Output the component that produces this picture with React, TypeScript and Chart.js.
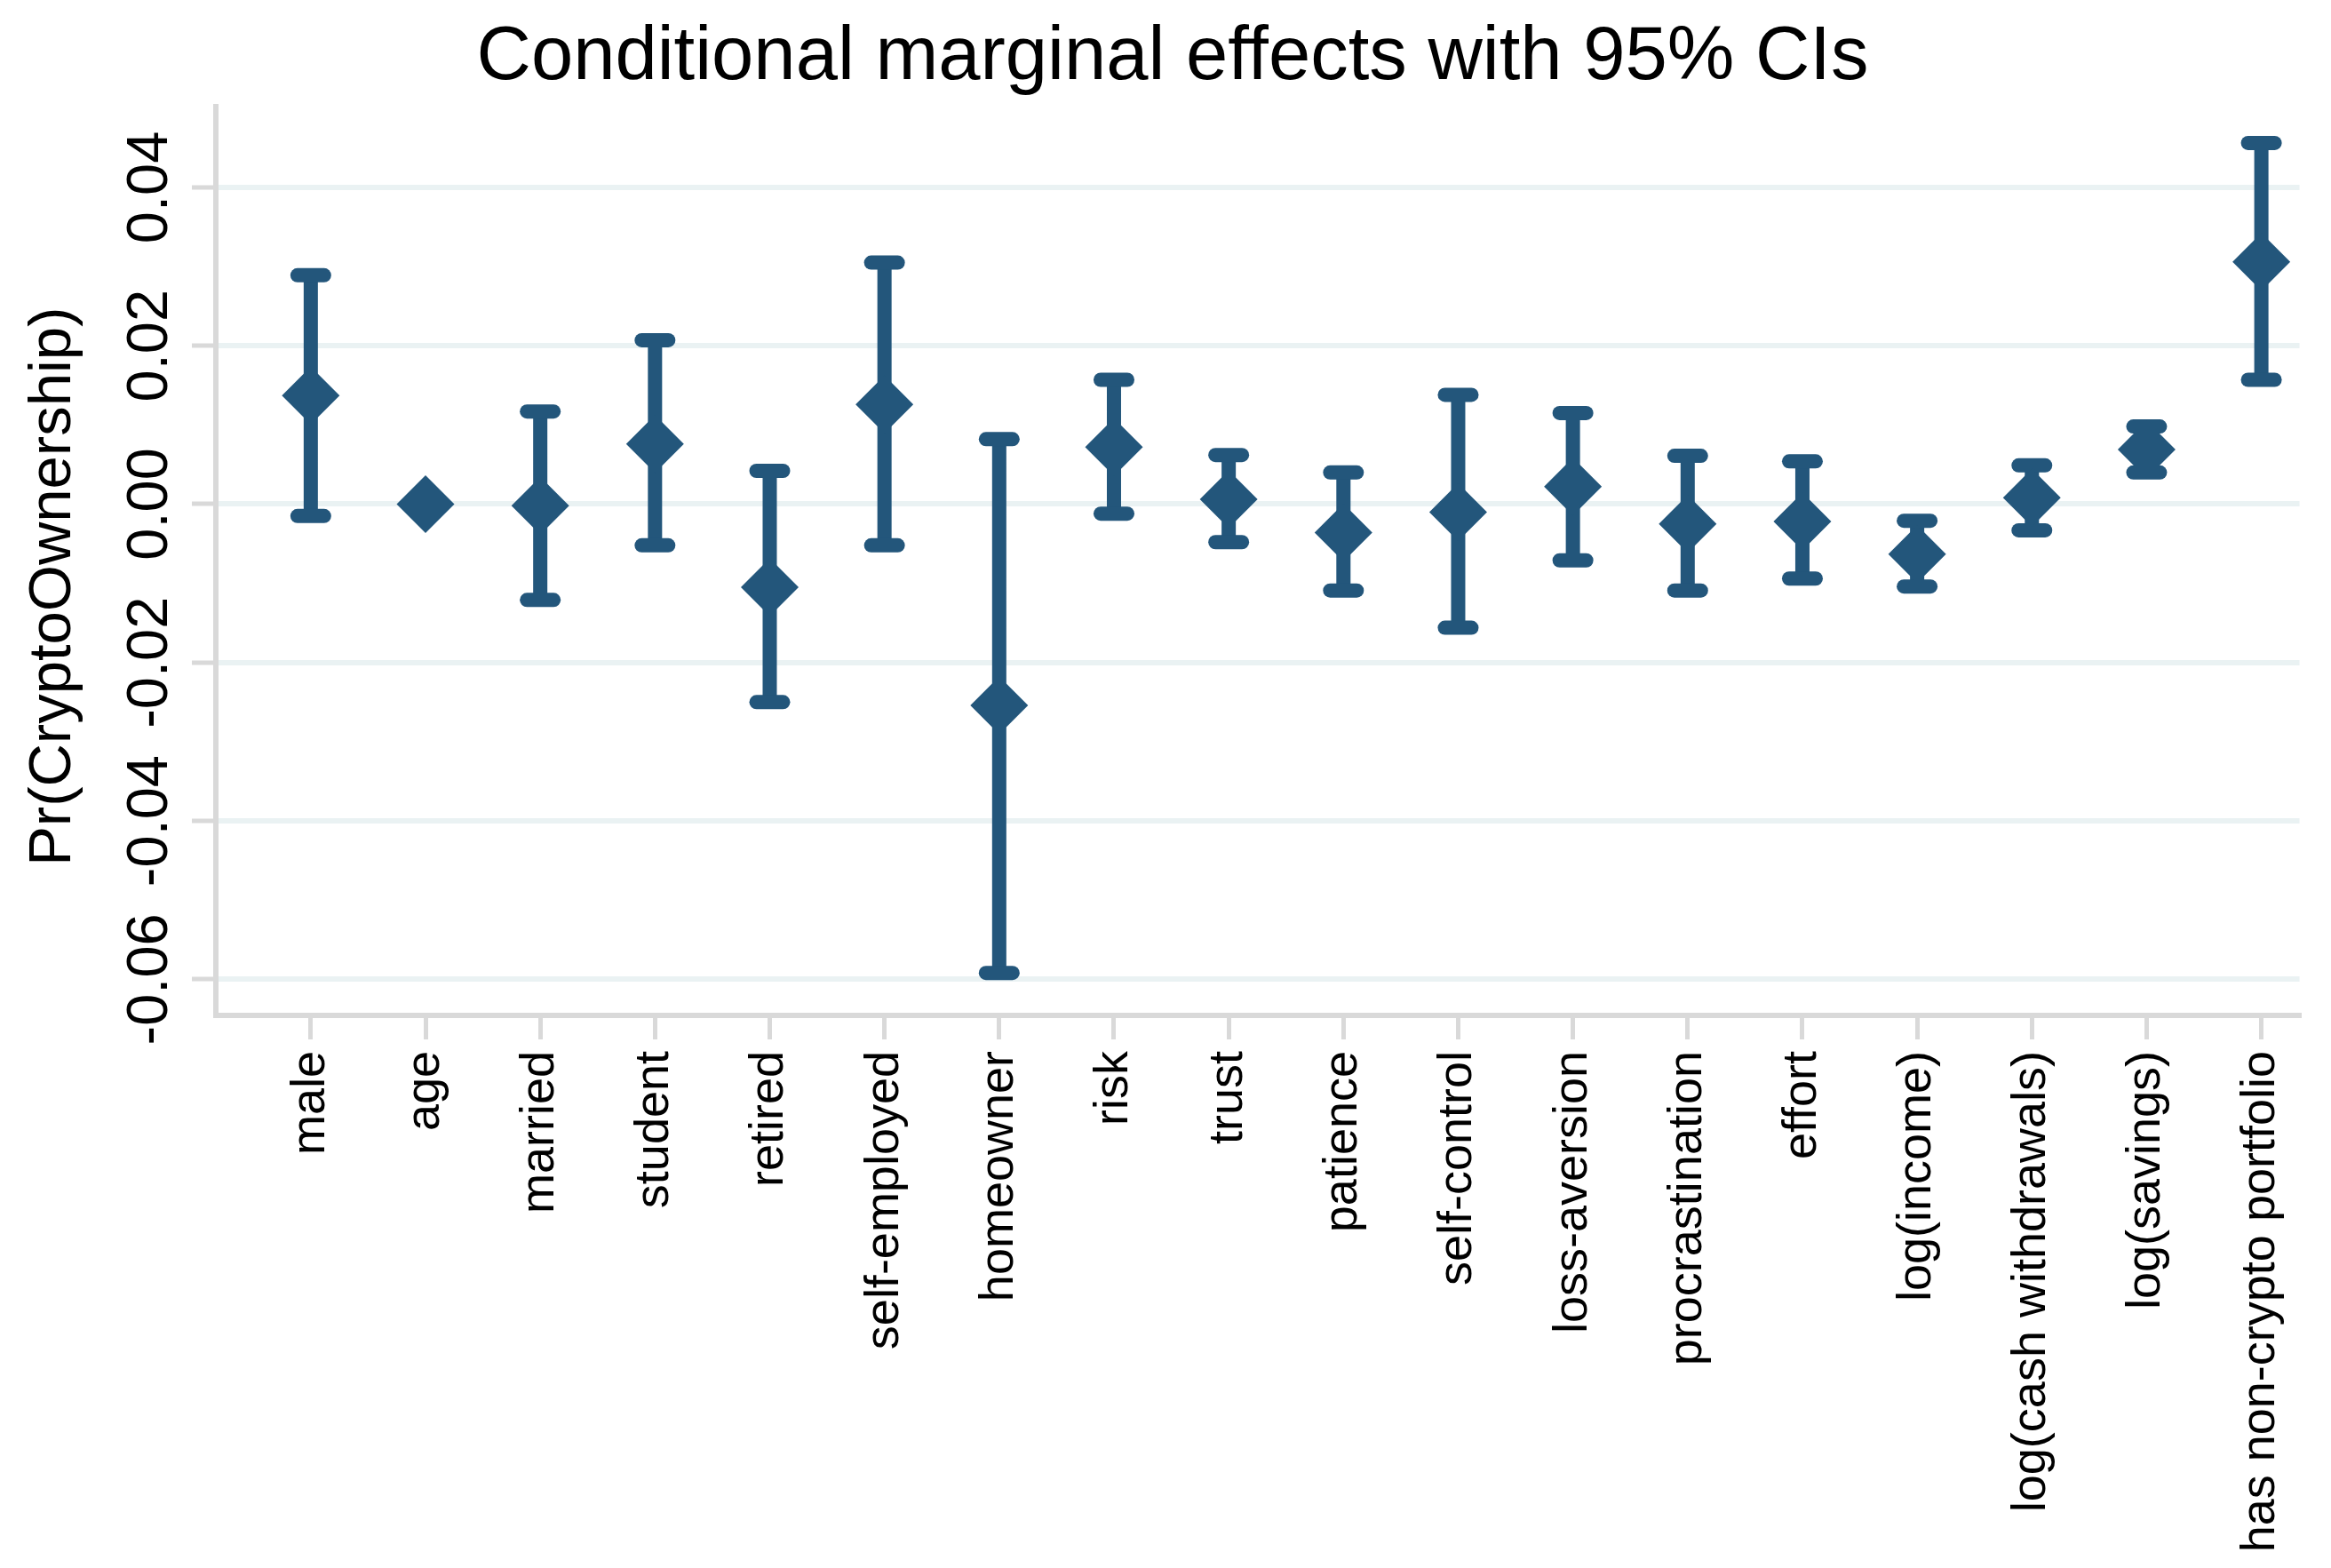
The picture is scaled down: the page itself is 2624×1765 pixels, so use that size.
import React, { useEffect, useRef } from "react";
import { Chart, registerables } from "chart.js";

Chart.register(...registerables);

const CATEGORIES = [
  "male",
  "age",
  "married",
  "student",
  "retired",
  "self-employed",
  "homeowner",
  "risk",
  "trust",
  "patience",
  "self-control",
  "loss-aversion",
  "procrastination",
  "effort",
  "log(income)",
  "log(cash withdrawals)",
  "log(savings)",
  "has non-crypto portfolio",
];

const ESTIMATES = [
  0.0137, 0.0, -0.0002, 0.0076, -0.0105, 0.0126, -0.0254, 0.0072, 0.0006,
  -0.0036, -0.001, 0.0022, -0.0025, -0.0022, -0.0063, 0.0008, 0.0069, 0.0306,
];

const CI_LOW = [
  -0.0015, -0.0002, -0.0121, -0.0052, -0.025, -0.0052, -0.0592, -0.0012,
  -0.0048, -0.0109, -0.0156, -0.0071, -0.0109, -0.0094, -0.0104, -0.0033,
  0.004, 0.0157,
];

const CI_HIGH = [
  0.0289, 0.0002, 0.0117, 0.0207, 0.0042, 0.0305, 0.0082, 0.0157, 0.0062,
  0.004, 0.0138, 0.0115, 0.0061, 0.0054, -0.0021, 0.0049, 0.0098, 0.0456,
];

const Y_TICKS = [-0.06, -0.04, -0.02, 0.0, 0.02, 0.04];
const Y_TICK_LABELS = ["-0.06", "-0.04", "-0.02", "0.00", "0.02", "0.04"];

const TITLE = "Conditional marginal effects with 95% CIs";
const Y_TITLE = "Pr(CryptoOwnership)";

const FONT = '"Liberation Sans", Arial, Helvetica, sans-serif';
const MARK = "rgb(35, 86, 123)";
const GRID = "#EAF2F3";
const AXIS = "#D9D9D9";

const yLabelsPlugin = {
  id: "yLabelsRotated",
  afterDraw(chart: any) {
    const { ctx, chartArea, scales } = chart;
    const ys = scales.y;
    ctx.save();
    ctx.fillStyle = "#000";
    ctx.textAlign = "center";
    ctx.textBaseline = "alphabetic";
    ctx.font = `65px ${FONT}`;
    Y_TICKS.forEach((v, i) => {
      const py = ys.getPixelForValue(v);
      ctx.save();
      ctx.translate(chartArea.left - 55, py);
      ctx.rotate(-Math.PI / 2);
      ctx.fillText(Y_TICK_LABELS[i], 0, 0);
      ctx.restore();
    });
    ctx.font = `67px ${FONT}`;
    ctx.save();
    ctx.translate(chartArea.left - 164, (chartArea.top + chartArea.bottom) / 2 + 29);
    ctx.rotate(-Math.PI / 2);
    ctx.fillText(Y_TITLE, 0, 0);
    ctx.restore();
    ctx.restore();
  },
};

const roundCapPlugin = {
  id: "roundCaps",
  beforeDatasetDraw(chart: any, args: any) {
    if (chart.data.datasets[args.index].label === "caps") {
      chart.ctx.save();
      chart.ctx.lineCap = "round";
    }
  },
  afterDatasetDraw(chart: any, args: any) {
    if (chart.data.datasets[args.index].label === "caps") {
      chart.ctx.restore();
    }
  },
};

export default function App() {
  const canvasRef = useRef<HTMLCanvasElement | null>(null);

  useEffect(() => {
    document.body.style.margin = "0";
    document.body.style.overflow = "hidden";
    const canvas = canvasRef.current;
    if (!canvas) return;

    const estimatePoints = CATEGORIES.map((_, i) => ({ x: i + 1, y: ESTIMATES[i] }));
    const capPoints = [
      ...CATEGORIES.map((_, i) => ({ x: i + 1, y: CI_LOW[i] })),
      ...CATEGORIES.map((_, i) => ({ x: i + 1, y: CI_HIGH[i] })),
    ];
    const ciLines: any[] = [];
    CATEGORIES.forEach((_, i) => {
      ciLines.push({ x: i + 1, y: CI_LOW[i] });
      ciLines.push({ x: i + 1, y: CI_HIGH[i] });
      ciLines.push({ x: i + 1, y: null });
    });

    const chart = new Chart(canvas, {
      type: "scatter",
      data: {
        datasets: [
          {
            type: "scatter",
            label: "estimates",
            data: estimatePoints,
            pointStyle: "rectRot",
            pointRadius: 32.5,
            pointHoverRadius: 32.5,
            backgroundColor: MARK,
            borderColor: MARK,
            borderWidth: 0,
            pointBorderWidth: 0,
            clip: false,
          } as any,
          {
            type: "scatter",
            label: "caps",
            data: capPoints,
            pointStyle: "line",
            pointRadius: 15,
            pointHoverRadius: 15,
            borderColor: MARK,
            backgroundColor: MARK,
            borderWidth: 16,
            pointBorderWidth: 16,
            clip: false,
          } as any,
          {
            type: "line",
            label: "ci",
            data: ciLines,
            borderColor: MARK,
            backgroundColor: MARK,
            borderWidth: 16,
            pointRadius: 0,
            pointHoverRadius: 0,
            spanGaps: false,
            fill: false,
            clip: false,
          } as any,
        ],
      },
      options: {
        responsive: false,
        animation: false,
        devicePixelRatio: 1,
        events: [],
        layout: { padding: { left: 48, right: 32, top: 0, bottom: 0 } },
        plugins: {
          legend: { display: false },
          tooltip: { enabled: false },
          title: {
            display: true,
            text: TITLE,
            color: "#000",
            font: { size: 85, family: FONT, weight: "normal" as any, lineHeight: 1.2 },
            padding: { top: 14.2, bottom: 3.3 },
          },
        },
        scales: {
          x: {
            type: "linear",
            min: 0.1728,
            max: 18.3324,
            afterBuildTicks: (s: any) => {
              s.ticks = CATEGORIES.map((_, i) => ({ value: i + 1 }));
            },
            afterFit: (s: any) => {
              s.height = 622;
            },
            ticks: {
              autoSkip: false,
              minRotation: 90,
              maxRotation: 90,
              padding: 13,
              color: "#000",
              font: { size: 54, family: FONT },
              callback: (v: any) => CATEGORIES[Math.round(Number(v)) - 1] ?? "",
            },
            grid: {
              drawOnChartArea: false,
              drawTicks: true,
              tickLength: 27,
              tickWidth: 5,
              tickColor: AXIS,
              color: "rgba(0,0,0,0)",
              lineWidth: 5,
            },
            border: { display: true, color: AXIS, width: 6 },
          },
          y: {
            type: "linear",
            min: -0.06456,
            max: 0.05025,
            afterBuildTicks: (s: any) => {
              s.ticks = Y_TICKS.map((v) => ({ value: v }));
            },
            afterFit: (s: any) => {
              s.width = 195;
            },
            ticks: { display: false },
            grid: {
              color: GRID,
              lineWidth: 6,
              drawTicks: true,
              tickLength: 27,
              tickWidth: 5,
              tickColor: AXIS,
            },
            border: { display: true, color: AXIS, width: 6 },
          },
        },
      },
      plugins: [yLabelsPlugin, roundCapPlugin],
    } as any);

    return () => {
      chart.destroy();
    };
  }, []);

  return (
    <div style={{ position: "absolute", left: 0, top: 0, width: 2624, height: 1765, background: "#fff" }}>
      <canvas ref={canvasRef} width={2624} height={1765} style={{ display: "block", width: 2624, height: 1765 }} />
    </div>
  );
}
